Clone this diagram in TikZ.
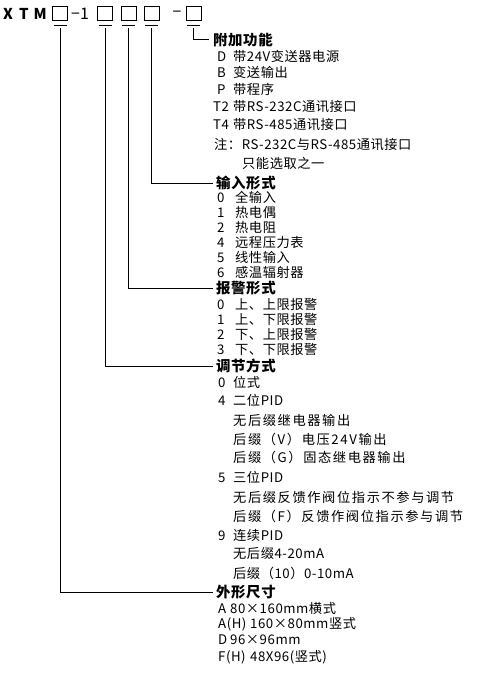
\documentclass[tikz,border=0pt]{standalone}
\usepackage{fontspec}
\setmainfont{Noto Sans CJK SC}
\newfontfamily\cjk[LetterSpace=4]{Noto Sans CJK SC}
\newfontfamily\cjkw[LetterSpace=12]{Noto Sans CJK SC}
\newcommand\lab[2][16bp]{\makebox[#1][l]{#2}}
\tikzset{
  item/.style={anchor=west, inner sep=0pt, font=\cjk\fontsize{13.3}{14}\selectfont},
  witem/.style={anchor=west, inner sep=0pt, font=\cjkw\fontsize{13.3}{14}\selectfont},
  head/.style={anchor=west, inner sep=0pt, font=\cjk\bfseries\fontsize{14.5}{15}\selectfont},
  codebox/.style={draw, line width=1bp, minimum width=15bp, minimum height=14bp, inner sep=0pt},
  wire/.style={line width=1bp},
}
\begin{document}
\begin{tikzpicture}[x=1bp,y=-1bp]
\useasboundingbox (0,0) rectangle (477,675);
% top code row
\node[anchor=west, inner sep=0pt, font=\bfseries\fontsize{15}{15}\selectfont] (xtm) at (3,14) {X\hspace{6bp}T\hspace{5bp}M};
\node[codebox] (b1) at (60,14) {};
\node[anchor=west, inner sep=0pt, font=\fontsize{16}{16}\selectfont] (dash1) at (71,14) {−1};
\node[codebox] (b2) at (105,14) {};
\node[codebox] (b3) at (128.5,14) {};
\node[codebox] (b4) at (151.5,14) {};
\node[inner sep=0pt, font=\fontsize{16}{16}\selectfont] (dash2) at (177,14) {−};
\node[codebox] (b5) at (193.5,14) {};
% underline bars
\foreach \b in {b1,b2,b3,b4,b5}{
  \draw[wire] ([xshift=-6.5bp,yshift=-4bp]\b.south) -- ([xshift=6.5bp,yshift=-4bp]\b.south);
}
% headings
\node[head] (h1) at (213,40) {附加功能};
\node[head] (h2) at (216,183) {输入形式};
\node[head] (h3) at (216,288) {报警形式};
\node[head] (h4) at (216,366) {调节方式};
\node[head] (h5) at (216,592) {外形尺寸};
% connectors
\coordinate (s1) at (60,28);
\coordinate (s2) at (105,28);
\coordinate (s3) at (128.5,28);
\coordinate (s4) at (151.5,28);
\coordinate (s5) at (193.5,28);
\draw[wire] (s5) |- ([xshift=-4bp]h1.west);
\draw[wire] (s4) |- ([xshift=-3bp]h2.west);
\draw[wire] (s3) |- ([xshift=-3bp]h3.west);
\draw[wire] (s2) |- ([xshift=-3bp]h4.west);
\draw[wire] (s1) |- ([xshift=-3bp]h5.west);
% 附加功能
\node[item] (a1) at (217,56) {\lab{D}带24V变送器电源};
\node[item] (a2) at (217,72) {\lab{B}变送输出};
\node[item] (a3) at (217,89) {\lab{P}带程序};
\node[item] (a4) at (213,107) {\lab[20bp]{T2}带RS-232C通讯接口};
\node[item] (a5) at (213,125) {\lab[20bp]{T4}带RS-485通讯接口};
\node[item] (a6) at (214,145) {注：RS-232C与RS-485通讯接口};
\node[item] (a7) at (242,163) {只能选取之一};
% 输入形式
\node[item] (i0) at (217,197) {\lab[18bp]{0}全输入};
\node[item] (i1) at (217,212) {\lab[18bp]{1}热电偶};
\node[item] (i2) at (217,227) {\lab[18bp]{2}热电阻};
\node[item] (i4) at (217,242) {\lab[18bp]{4}远程压力表};
\node[item] (i5) at (217,257) {\lab[18bp]{5}线性输入};
\node[item] (i6) at (217,272) {\lab[18bp]{6}感温辐射器};
% 报警形式
\node[item] (r0) at (217,304) {\lab[18bp]{0}上、上限报警};
\node[item] (r1) at (217,319) {\lab[18bp]{1}上、下限报警};
\node[item] (r2) at (217,334) {\lab[18bp]{2}下、上限报警};
\node[item] (r3) at (217,349) {\lab[18bp]{3}下、下限报警};
% 调节方式
\node[item] (c0) at (218,382) {\lab[15bp]{0}位式};
\node[item] (c4) at (218,400) {\lab[15bp]{4}二位PID};
\node[witem] (c4a) at (233,420) {无后缀继电器输出};
\node[witem] (c4b) at (233,439) {后缀（V）电压24V输出};
\node[witem] (c4c) at (233,457) {后缀（G）固态继电器输出};
\node[item] (c5) at (218,477) {\lab[15bp]{5}三位PID};
\node[witem] (c5a) at (233,497) {无后缀反馈作阀位指示不参与调节};
\node[witem] (c5b) at (233,516) {后缀（F）反馈作阀位指示参与调节};
\node[item] (c9) at (218,535) {\lab[15bp]{9}连续PID};
\node[item] (c9a) at (233,554) {无后缀4-20mA};
\node[item] (c9b) at (233,573) {后缀（10）0-10mA};
% 外形尺寸
\node[item] (f1) at (218,608) {\lab[12bp]{A}80×160mm横式};
\node[item] (f2) at (218,624) {\lab[32bp]{A(H)}160×80mm竖式};
\node[item] (f3) at (218,640) {\lab[12bp]{D}96×96mm};
\node[item] (f4) at (218,657) {\lab[32bp]{F(H)}48X96(竖式)};
\end{tikzpicture}
\end{document}
